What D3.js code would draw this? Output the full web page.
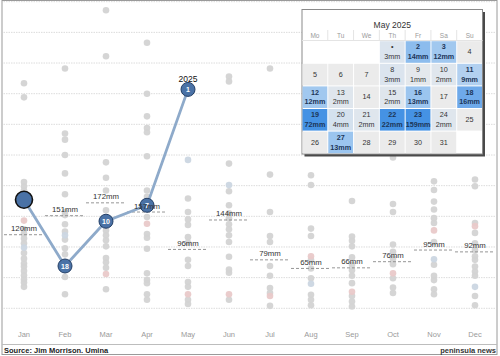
<!DOCTYPE html>
<html><head><meta charset="utf-8">
<script src="https://cdn.jsdelivr.net/npm/d3@7"></script>
<style>body{margin:0;background:#fff}svg{display:block;font-family:"Liberation Sans",Arial,sans-serif}</style>
</head><body><svg id="c" width="500" height="356"></svg>
<script>
// ---------- data ----------
const months = ["Jan","Feb","Mar","Apr","May","Jun","Jul","Aug","Sep","Oct","Nov","Dec"];
const avgRain = [120,151,172,157,96,144,79,65,66,76,95,92];
const rain2025 = [177,69,142,168,357];
const rank2025 = ["","18","10","7","1"];
const rainJan = [367,344,206,199,192,129,122,114,106,90,81,73,68,61,54,47,42,35];
const rainFeb = [391,285,275,250,220,186,157,152,137,125,112,98,88,51,23];
const rainMar = [486,411,238,213,192,160,137,127,119,111,101,82,75,66,31];
const rainApr = [433,350,313,294,287,248,192,182,149,121,115,97,57,46,41,23,14];
const rainMay = [179,157,145,136,116,107,79,69,43,35,14,7];
const rainJun = [378,370,236,191,168,155,147,137,129,119,108,84,63,58,14];
const rainJul = [391,218,157,118,108,69,53,33,25,4];
const rainAug = [217,201,130,118,79,65,49,22,14,5];
const rainSep = [175,117,110,101,83,71,62,53,41,20,11,3];
const rainOct = [246,170,157,104,92,81,72,49,34,25];
const rainNov = [207,193,174,161,147,139,108,71,53,46,31,23];
const rainDec = [210,199,139,123,106,95,85,79,68,60,53,20,5];
const pinkRain = [143,null,56,138,23,23,20,85,27,57,127,134];
const blueRain = [99,119,null,null,242,201,null,40,null,null,80,35];
const gridTicks = [0,50,100,150,200,250,300,350,400,450,500];
// calendar
const calTitle = "May 2025";
const weekDays = ["Mo","Tu","We","Th","Fr","Sa","Su"];
const calLabels = ["•","2","3","4","5","6","7","8","9","10","11","12","13","14","15","16","17","18","19","20","21","22","23","24","25","26","27","28","29","30","31"];
const calRain = [3,14,12,0,0,0,0,3,1,2,9,12,2,0,2,13,0,16,72,4,2,22,159,2,0,0,13,0,0,0,0];
const calStartCol = 3;

// ---------- chart ----------
const svg = d3.select("#c");
const x = d3.scaleBand().domain(months).range([3.5,495.5]).padding(0);
const y = d3.scaleLinear().domain([0,500]).range([308.3,1.7]);

// frame
svg.append("rect").attr("x",2).attr("y",0.5).attr("width",495).attr("height",354)
  .attr("fill","none").attr("stroke","#9a9a9a").attr("stroke-width",1);
svg.append("line").attr("x1",2).attr("x2",497).attr("y1",344.5).attr("y2",344.5).attr("stroke","#bdbdbd");

// gridlines
svg.append("g").selectAll("line").data(gridTicks).join("line")
  .attr("x1",3.5).attr("x2",495.5).attr("y1",d=>y(d)).attr("y2",d=>y(d))
  .attr("stroke","#dcdcdc").attr("stroke-dasharray","1.5,1");

// month labels via axis
const xAxis = svg.append("g").attr("transform","translate(0,332)")
  .call(d3.axisBottom(x).tickSize(0).tickPadding(0));
xAxis.select(".domain").remove();
xAxis.selectAll("text").attr("fill","#9a9a9a").attr("font-size","7.5px").attr("font-family","Liberation Sans, Arial, sans-serif");

// historical dots
const hist = [rainJan,rainFeb,rainMar,rainApr,rainMay,rainJun,rainJul,rainAug,rainSep,rainOct,rainNov,rainDec];
const dotData = [];
hist.forEach((arr,i)=>arr.forEach(v=>dotData.push({m:months[i],v,c:"#d3d3d3"})));
pinkRain.forEach((v,i)=>{ if(v!=null) dotData.push({m:months[i],v,c:"#e9c9c9"}); });
blueRain.forEach((v,i)=>{ if(v!=null) dotData.push({m:months[i],v,c:"#cbd6e2"}); });
svg.append("g").selectAll("circle").data(dotData).join("circle")
  .attr("cx",d=>x(d.m)+x.bandwidth()/2).attr("cy",d=>y(d.v)).attr("r",3.3)
  .attr("fill",d=>d.c).attr("opacity",0.95);

// average dashed lines
svg.append("g").selectAll("line").data(avgRain).join("line")
  .attr("x1",(d,i)=>x(months[i])+0.5).attr("x2",(d,i)=>x(months[i])+x.bandwidth()-0.5)
  .attr("y1",d=>y(d)).attr("y2",d=>y(d))
  .attr("stroke","#8a8a8a").attr("stroke-width",0.9).attr("stroke-dasharray","3,2");

// 2025 line
const pts = rain2025.map((v,i)=>({m:months[i],v,r:rank2025[i],i}));
svg.append("path").datum(pts)
  .attr("d",d3.line().x(d=>x(d.m)+x.bandwidth()/2).y(d=>y(d.v)))
  .attr("fill","none").attr("stroke","#8eaaca").attr("stroke-width",2.8);
svg.append("g").selectAll("circle").data(pts).join("circle")
  .attr("cx",d=>x(d.m)+x.bandwidth()/2).attr("cy",d=>y(d.v))
  .attr("r",d=>d.i===0?8.5:7)
  .attr("fill","#4a72a6").attr("stroke",d=>d.i===0?"#111":"#243f66").attr("stroke-width",d=>d.i===0?1.6:1);
svg.append("g").selectAll("text").data(pts).join("text")
  .attr("x",d=>x(d.m)+x.bandwidth()/2).attr("y",d=>y(d.v)+2.6)
  .attr("text-anchor","middle").attr("font-size","7px").attr("font-weight","bold")
  .attr("fill","#fff").text(d=>d.r);

// avg labels
svg.append("g").selectAll("text").data(avgRain).join("text")
  .attr("x",(d,i)=>x(months[i])+x.bandwidth()/2).attr("y",d=>y(d)-3.5)
  .attr("text-anchor","middle").attr("font-size","7.8px").attr("fill","#333")
  .text(d=>d+"mm");

// 2025 label
svg.append("text").attr("x",x("May")+x.bandwidth()/2).attr("y",y(rain2025[4])-7)
  .attr("text-anchor","middle").attr("font-size","8.5px").attr("fill","#111").text("2025");

// footer
svg.append("text").attr("x",4).attr("y",352.5).attr("font-size","7.5px").attr("font-weight","bold").attr("fill","#222")
  .text("Source: Jim Morrison. Umina");
svg.append("text").attr("x",496).attr("y",352.5).attr("text-anchor","end").attr("font-size","7.5px").attr("font-weight","bold").attr("fill","#333")
  .text("peninsula news");

// ---------- calendar ----------
const cx0 = 302, cy0 = 9.5, cw = 180.5, ch = 144.5;
const cal = svg.append("g");
cal.append("rect").attr("x",cx0+2.5).attr("y",cy0+2.5).attr("width",cw).attr("height",ch).attr("fill","#4a4a4a");
cal.append("rect").attr("x",cx0).attr("y",cy0).attr("width",cw).attr("height",ch).attr("fill","#fff").attr("stroke","#8a8a8a");
cal.append("text").attr("x",cx0+cw/2).attr("y",28).attr("text-anchor","middle").attr("font-size","8.5px").attr("fill","#333").text(calTitle);
const colX = d3.scaleBand().domain(d3.range(7)).range([cx0,cx0+cw]);
const rowY = d3.scaleBand().domain(d3.range(5)).range([40.7,153.7]);
cal.append("g").selectAll("text").data(weekDays).join("text")
  .attr("x",(d,i)=>colX(i)+colX.bandwidth()/2).attr("y",37.5).attr("text-anchor","middle")
  .attr("font-size","6.5px").attr("fill","#9a9a9a").text(d=>d);
cal.append("g").selectAll("line").data(d3.range(1,7)).join("line")
  .attr("x1",d=>colX(d)).attr("x2",d=>colX(d)).attr("y1",30).attr("y2",40.5).attr("stroke","#e4e4e4");
cal.append("line").attr("x1",cx0).attr("x2",cx0+cw).attr("y1",40.5).attr("y2",40.5).attr("stroke","#e4e4e4");

const rainColor = d3.scaleLinear().domain([0.5,3,9,13,16,22]).range(["#e6e9ec","#dbe4ee","#b2d0f0","#9bc5ef","#6ea9ea","#4592e4"]).clamp(true);
const cells = calLabels.map((lab,i)=>({lab,rain:calRain[i],col:(i+calStartCol)%7,row:Math.floor((i+calStartCol)/7)}));
const cg = cal.append("g").selectAll("g").data(cells).join("g")
  .attr("transform",d=>`translate(${colX(d.col)},${rowY(d.row)})`);
cg.append("rect").attr("x",0.5).attr("y",0.5).attr("width",colX.bandwidth()-1).attr("height",rowY.bandwidth()-1)
  .attr("fill",d=>d.rain>0?rainColor(d.rain):"#ebebeb");
cg.append("text").attr("x",colX.bandwidth()/2).attr("y",d=>d.rain>0?8.8:13.5)
  .attr("text-anchor","middle").attr("font-size","7.2px")
  .attr("font-weight",d=>d.rain>=9?"bold":"normal")
  .attr("fill",d=>d.rain>=9?"#1c3558":"#333").text(d=>d.lab);
cg.filter(d=>d.rain>0).append("text").attr("x",colX.bandwidth()/2).attr("y",18.6)
  .attr("text-anchor","middle").attr("font-size","7.2px")
  .attr("font-weight",d=>d.rain>=9?"bold":"normal")
  .attr("fill",d=>d.rain>=9?"#1c3558":"#333").text(d=>d.rain+"mm");
</script></body></html>
